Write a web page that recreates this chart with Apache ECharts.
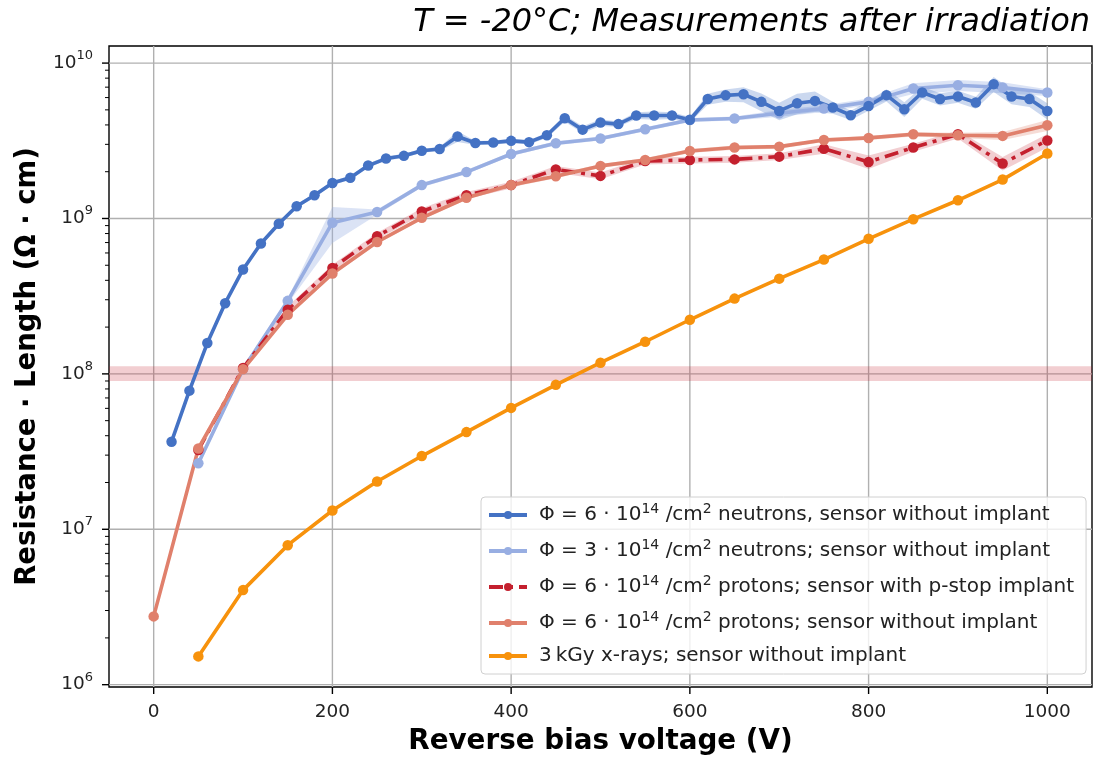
<!DOCTYPE html>
<html>
<head>
<meta charset="utf-8">
<script src="https://cdn.jsdelivr.net/npm/echarts@6/dist/echarts.min.js"></script>
<style>
html,body{margin:0;padding:0;background:#fff;}
#chart{width:1096px;height:761px;}
</style>
</head>
<body>
<div id="chart"></div>
<script>
// ---------- data ----------
const titleText = 'T = -20°C; Measurements after irradiation';
const xAxisName = 'Reverse bias voltage (V)';
const yAxisName = 'Resistance · Length (Ω · cm)';

const xTickLabels = [0, 200, 400, 600, 800, 1000];
const yTickLabels = [1e6, 1e7, 1e8, 1e9, 1e10];

const names = [
  'Φ = 6 · 10^14 /cm^2 neutrons, sensor without implant',
  'Φ = 3 · 10^14 /cm^2 neutrons; sensor without implant',
  'Φ = 6 · 10^14 /cm^2 protons; sensor with p-stop implant',
  'Φ = 6 · 10^14 /cm^2 protons; sensor without implant',
  '3\u2009kGy x-rays; sensor without implant'
];

// neutrons 6e14 (dark blue)
const n6V = [20,40,60,80,100,120,140,160,180,200,220,240,260,280,300,320,340,360,380,400,420,440,460,480,500,520,540,560,580,600,620,640,660,680,700,720,740,760,780,800,820,840,860,880,900,920,940,960,980,1000];
const n6R = [3.66e7,7.8e7,1.58e8,2.85e8,4.7e8,6.9e8,9.25e8,1.2e9,1.41e9,1.69e9,1.83e9,2.19e9,2.43e9,2.53e9,2.73e9,2.8e9,3.37e9,3.06e9,3.08e9,3.16e9,3.1e9,3.43e9,4.42e9,3.73e9,4.15e9,4.05e9,4.6e9,4.6e9,4.6e9,4.32e9,5.87e9,6.2e9,6.3e9,5.63e9,4.92e9,5.52e9,5.71e9,5.18e9,4.62e9,5.3e9,6.22e9,5.05e9,6.47e9,5.87e9,6.1e9,5.58e9,7.32e9,6.1e9,5.87e9,4.92e9];
const n6Err = [0.05,0.03,0.03,0.03,0.03,0.03,0.03,0.03,0.03,0.03,0.03,0.03,0.03,0.03,0.03,0.03,0.08,0.03,0.03,0.03,0.03,0.04,0.05,0.05,0.05,0.04,0.05,0.06,0.05,0.04,0.08,0.09,0.11,0.13,0.13,0.15,0.15,0.09,0.07,0.07,0.09,0.11,0.09,0.09,0.09,0.09,0.11,0.11,0.11,0.12];

// neutrons 3e14 (light blue)
const n3V = [50,100,150,200,250,300,350,400,450,500,550,600,650,700,750,800,850,900,950,1000];
const n3R = [2.66e7,1.07e8,2.95e8,9.4e8,1.1e9,1.64e9,1.99e9,2.6e9,3.05e9,3.27e9,3.75e9,4.3e9,4.4e9,4.75e9,5.1e9,5.63e9,6.87e9,7.2e9,6.96e9,6.47e9];
const n3Err = [0.05,0.04,0.04,0.26,0.04,0.03,0.03,0.03,0.03,0.03,0.03,0.03,0.03,0.05,0.05,0.05,0.08,0.08,0.08,0.05];

// protons with p-stop (dark red)
const ppV = [50,100,150,200,250,300,350,400,450,500,550,600,650,700,750,800,850,900,950,1000];
const ppR = [3.24e7,1.09e8,2.59e8,4.8e8,7.7e8,1.11e9,1.41e9,1.64e9,2.07e9,1.88e9,2.34e9,2.38e9,2.4e9,2.5e9,2.81e9,2.31e9,2.86e9,3.48e9,2.26e9,3.18e9];
const ppErr = [0.05,0.05,0.05,0.05,0.05,0.05,0.05,0.05,0.05,0.05,0.05,0.05,0.05,0.05,0.07,0.1,0.06,0.06,0.1,0.1];

// protons without implant (salmon)
const pnV = [0,50,100,150,200,250,300,350,400,450,500,550,600,650,700,750,800,850,900,950,1000];
const pnR = [2.75e6,3.31e7,1.07e8,2.4e8,4.42e8,7.06e8,1.01e9,1.36e9,1.64e9,1.87e9,2.18e9,2.38e9,2.72e9,2.86e9,2.9e9,3.2e9,3.3e9,3.48e9,3.43e9,3.4e9,3.98e9];
const pnErr = [0.03,0.03,0.03,0.03,0.03,0.03,0.03,0.03,0.03,0.03,0.03,0.03,0.03,0.03,0.03,0.03,0.03,0.03,0.04,0.06,0.08];

// x-rays (orange)
const xrV = [50,100,150,200,250,300,350,400,450,500,550,600,650,700,750,800,850,900,950,1000];
const xrR = [1.52e6,4.06e6,7.9e6,1.32e7,2.03e7,2.96e7,4.22e7,6.04e7,8.5e7,1.18e8,1.61e8,2.23e8,3.05e8,4.1e8,5.44e8,7.4e8,9.9e8,1.31e9,1.78e9,2.62e9];

// reference band around 1e8
const refBand = [0.9e8, 1.12e8];

// ---------- styles ----------
const FONT = 'DejaVu Sans';
const C_N6 = '#4472c4', C_N3 = '#98aee2', C_PP = '#c4202e', C_PN = '#e0806c', C_XR = '#f7920c';
const xMin = -50, xMax = 1050;
const yMin = Math.pow(10, 5.985), yMax = Math.pow(10, 10.11);

function zip(a, b) { return a.map((v, i) => [v, b[i]]); }

const yMinor = [];
for (let e = 6; e <= 9; e++) for (let m = 2; m <= 9; m++) yMinor.push(m * Math.pow(10, e));

function bandSeries(xs, vals, errs, color) {
  return {
    type: 'custom', silent: true, coordinateSystem: 'cartesian2d',
    data: [[xs[0], vals[0]]], encode: { x: 0, y: 1 },
    renderItem: function (params, api) {
      const pts = [];
      for (let i = 0; i < xs.length; i++) pts.push(api.coord([xs[i], vals[i] * (1 + errs[i])]));
      for (let i = xs.length - 1; i >= 0; i--) pts.push(api.coord([xs[i], vals[i] * (1 - errs[i])]));
      return { type: 'polygon', shape: { points: pts }, style: { fill: color } };
    }
  };
}

function lineSeries(name, xs, vals, color, dash) {
  return {
    name: name, type: 'line', data: zip(xs, vals),
    symbol: 'circle', symbolSize: 10.5, showSymbol: true,
    itemStyle: { color: color },
    lineStyle: { color: color, width: 3.6, type: dash || 'solid', cap: 'butt' },
    emphasis: { disabled: true }, silent: true
  };
}

const gridSeries = {
  type: 'custom', silent: true, coordinateSystem: 'cartesian2d', z: 1,
  data: yTickLabels.map(v => [xMin, v, 0]).concat(xTickLabels.map(v => [v, yMin, 1])),
  encode: { x: 0, y: 1 },
  renderItem: function (params, api) {
    const kind = api.value(2);
    let p1, p2;
    if (kind === 0) { p1 = api.coord([xMin, api.value(1)]); p2 = api.coord([xMax, api.value(1)]); }
    else { p1 = api.coord([api.value(0), yMin]); p2 = api.coord([api.value(0), yMax]); }
    return { type: 'line', shape: { x1: p1[0], y1: p1[1], x2: p2[0], y2: p2[1] }, style: { stroke: '#b0b0b0', lineWidth: 1.4 } };
  }
};

const tickSeries = {
  type: 'custom', silent: true, coordinateSystem: 'cartesian2d', z: 5,
  data: yTickLabels.map(v => [xMin, v, 7]).concat(yMinor.map(v => [xMin, v, 4])).concat(xTickLabels.map(v => [v, yMin, -7])),
  encode: { x: 0, y: 1 },
  renderItem: function (params, api) {
    const len = api.value(2);
    const p = api.coord([api.value(0), api.value(1)]);
    let shape;
    if (len > 0) shape = { x1: p[0] - len, y1: p[1], x2: p[0], y2: p[1] };
    else shape = { x1: p[0], y1: p[1], x2: p[0], y2: p[1] - len };
    return { type: 'line', shape: shape, style: { stroke: '#000', lineWidth: len === 4 ? 1 : 1.4 } };
  }
};

const refSeries = {
  type: 'custom', silent: true, coordinateSystem: 'cartesian2d', z: 1.5,
  data: [[xMin, refBand[0]]], encode: { x: 0, y: 1 },
  renderItem: function (params, api) {
    const a = api.coord([xMin, refBand[1]]), b = api.coord([xMax, refBand[0]]);
    return { type: 'rect', shape: { x: a[0], y: a[1], width: b[0] - a[0], height: b[1] - a[1] }, style: { fill: 'rgba(196,32,46,0.22)' } };
  }
};

function richName(name) {
  return '{p|}{t|' + name.replace(/\^(\d+)/g, '}{s|$1}{t|') + '}';
}

const option = {
  animation: false,
  backgroundColor: '#fff',
  title: {
    text: titleText, right: 6, top: 7, padding: 0,
    textStyle: { fontFamily: FONT, fontSize: 32, fontStyle: 'italic', fontWeight: 'normal', color: '#000' }
  },
  grid: { left: 109, right: 4, top: 46, bottom: 74, show: true, borderColor: '#000', borderWidth: 1.4, backgroundColor: 'transparent' },
  xAxis: {
    type: 'value', min: xMin, max: xMax,
    name: xAxisName, nameLocation: 'middle', nameGap: 41,
    nameTextStyle: { fontFamily: FONT, fontSize: 27.8, fontWeight: 'bold', color: '#000' },
    axisLine: { show: false }, axisTick: { show: false }, splitLine: { show: false },
    axisLabel: {
      margin: 16, fontFamily: FONT, fontSize: 18.5, color: '#222',
      formatter: function (v) { return xTickLabels.indexOf(v) >= 0 ? String(v) : ''; }
    }
  },
  yAxis: {
    type: 'log', logBase: 10, min: yMin, max: yMax,
    name: yAxisName, nameLocation: 'middle', nameGap: 58,
    nameTextStyle: { fontFamily: FONT, fontSize: 27.5, fontWeight: 'bold', color: '#000' },
    axisLine: { show: false }, axisTick: { show: false }, splitLine: { show: false }, minorTick: { show: false },
    axisLabel: {
      margin: 16, fontFamily: FONT, color: '#222',
      formatter: function (v) {
        const l = Math.log10(v), e = Math.round(l);
        if (Math.abs(l - e) > 1e-6) return '';
        return '{b|10}{e|' + e + '}';
      },
      rich: {
        b: { fontFamily: FONT, fontSize: 18.5, color: '#222', lineHeight: 28 },
        e: { fontFamily: FONT, fontSize: 13, color: '#222', lineHeight: 15, verticalAlign: 'top' }
      }
    }
  },
  legend: {
    data: names, orient: 'vertical', left: 481, top: 497,
    padding: [5, 12, 8, 6], itemGap: 13, itemWidth: 38, itemHeight: 10,
    backgroundColor: 'rgba(255,255,255,0.8)', borderColor: '#d0d0d0', borderWidth: 1, borderRadius: 4,
    selectedMode: false,
    lineStyle: { width: 4 },
    formatter: richName,
    textStyle: {
      rich: {
        p: { width: 7 },
        t: { fontFamily: FONT, fontSize: 20, color: '#222', lineHeight: 26 },
        s: { fontFamily: FONT, fontSize: 14, color: '#222', lineHeight: 15, verticalAlign: 'top' }
      }
    }
  },
  series: [
    gridSeries,
    refSeries,
    bandSeries(n3V, n3R, n3Err, 'rgba(152,174,226,0.35)'),
    lineSeries(names[1], n3V, n3R, C_N3),
    bandSeries(n6V, n6R, n6Err, 'rgba(68,114,196,0.28)'),
    lineSeries(names[0], n6V, n6R, C_N6),
    bandSeries(ppV, ppR, ppErr, 'rgba(196,32,46,0.22)'),
    lineSeries(names[2], ppV, ppR, C_PP, [14, 6, 4, 6]),
    bandSeries(pnV, pnR, pnErr, 'rgba(224,128,108,0.28)'),
    lineSeries(names[3], pnV, pnR, C_PN),
    lineSeries(names[4], xrV, xrR, C_XR),
    tickSeries
  ]
};

const chart = echarts.init(document.getElementById('chart'), null, { renderer: 'canvas' });
chart.setOption(option);
</script>
</body>
</html>
